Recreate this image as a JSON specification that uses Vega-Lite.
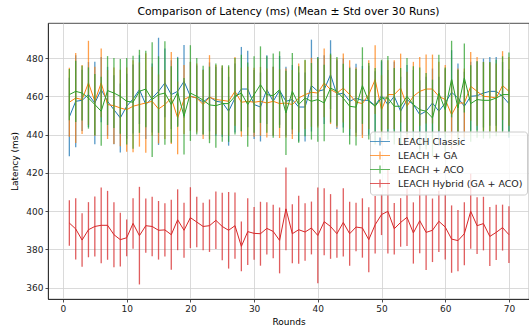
{
  "$schema": "https://vega.github.io/schema/vega-lite/v6.json",
  "autosize": {"type": "none"},
  "padding": {"left": 48, "top": 23, "right": 0, "bottom": 34},
  "width": 481,
  "height": 276,
  "title": {"text": "Comparison of Latency (ms) (Mean ± Std over 30 Runs)", "font": "DejaVu Sans", "fontSize": 10.8, "fontWeight": "normal", "color": "#000", "anchor": "middle", "offset": 6},
  "datasets": {
    "blue": [
      {"r":1,"m":449.2,"sd":20.5},{"r":2,"m":457.4,"sd":24},{"r":3,"m":457.9,"sd":16},{"r":4,"m":460.9,"sd":17},{"r":5,"m":456.5,"sd":21.5},{"r":6,"m":463.5,"sd":17},{"r":7,"m":457.4,"sd":18},{"r":8,"m":453.0,"sd":18},{"r":9,"m":448.7,"sd":18},{"r":10,"m":454.8,"sd":17},
      {"r":11,"m":458.6,"sd":18},{"r":12,"m":463.5,"sd":18},{"r":13,"m":455.7,"sd":18},{"r":14,"m":459.1,"sd":18},{"r":15,"m":462.6,"sd":28},{"r":16,"m":467.0,"sd":18},{"r":17,"m":460.9,"sd":18},{"r":18,"m":462.6,"sd":18},{"r":19,"m":467.8,"sd":19},{"r":20,"m":460.0,"sd":18},
      {"r":21,"m":459.1,"sd":17},{"r":22,"m":457.0,"sd":17},{"r":23,"m":459.7,"sd":18},{"r":24,"m":457.4,"sd":18},{"r":25,"m":456.9,"sd":18},{"r":26,"m":452.2,"sd":18},{"r":27,"m":459.1,"sd":18},{"r":28,"m":463.8,"sd":22},{"r":29,"m":463.8,"sd":20},{"r":30,"m":455.7,"sd":18},
      {"r":31,"m":454.4,"sd":18},{"r":32,"m":463.5,"sd":18},{"r":33,"m":457.4,"sd":18},{"r":34,"m":463.1,"sd":18},{"r":35,"m":457.4,"sd":18},{"r":36,"m":458.3,"sd":18},{"r":37,"m":454.4,"sd":18},{"r":38,"m":454.4,"sd":18},{"r":39,"m":465.6,"sd":24},{"r":40,"m":462.6,"sd":18},
      {"r":41,"m":463.5,"sd":18},{"r":42,"m":471.3,"sd":18},{"r":43,"m":460.9,"sd":18},{"r":44,"m":461.7,"sd":18},{"r":45,"m":457.4,"sd":18},{"r":46,"m":459.0,"sd":18},{"r":47,"m":457.9,"sd":18},{"r":48,"m":457.9,"sd":18},{"r":49,"m":455.1,"sd":18},{"r":50,"m":460.3,"sd":18},
      {"r":51,"m":455.7,"sd":18},{"r":52,"m":460.0,"sd":18},{"r":53,"m":452.2,"sd":18},{"r":54,"m":458.3,"sd":18},{"r":55,"m":455.7,"sd":18},{"r":56,"m":450.4,"sd":18},{"r":57,"m":452.2,"sd":18},{"r":58,"m":456.5,"sd":18},{"r":59,"m":452.2,"sd":18},{"r":60,"m":456.5,"sd":18},
      {"r":61,"m":462.1,"sd":22},{"r":62,"m":459.1,"sd":18},{"r":63,"m":454.8,"sd":18},{"r":64,"m":460.0,"sd":18},{"r":65,"m":460.3,"sd":18},{"r":66,"m":461.7,"sd":18},{"r":67,"m":462.6,"sd":18},{"r":68,"m":462.6,"sd":18},{"r":69,"m":460.0,"sd":18},{"r":70,"m":456.2,"sd":18}
    ],
    "orange": [
      {"r":1,"m":456.9,"sd":18},{"r":2,"m":459.1,"sd":23.5},{"r":3,"m":458.3,"sd":18},{"r":4,"m":467.0,"sd":22},{"r":5,"m":457.4,"sd":18},{"r":6,"m":467.0,"sd":18},{"r":7,"m":455.7,"sd":18},{"r":8,"m":455.1,"sd":20},{"r":9,"m":453.9,"sd":20},{"r":10,"m":453.0,"sd":22},
      {"r":11,"m":454.8,"sd":24},{"r":12,"m":455.7,"sd":22},{"r":13,"m":456.5,"sd":26},{"r":14,"m":457.4,"sd":18},{"r":15,"m":453.4,"sd":18},{"r":16,"m":455.7,"sd":18},{"r":17,"m":459.1,"sd":24},{"r":18,"m":448.7,"sd":19},{"r":19,"m":458.3,"sd":18},{"r":20,"m":460.0,"sd":18},
      {"r":21,"m":459.1,"sd":18},{"r":22,"m":455.7,"sd":18},{"r":23,"m":459.5,"sd":22},{"r":24,"m":458.3,"sd":18},{"r":25,"m":457.9,"sd":18},{"r":26,"m":457.4,"sd":18},{"r":27,"m":462.6,"sd":18},{"r":28,"m":456.9,"sd":18},{"r":29,"m":457.4,"sd":18},{"r":30,"m":456.9,"sd":18},
      {"r":31,"m":457.4,"sd":18},{"r":32,"m":456.5,"sd":18},{"r":33,"m":457.4,"sd":18},{"r":34,"m":456.2,"sd":18},{"r":35,"m":456.5,"sd":18},{"r":36,"m":455.7,"sd":18},{"r":37,"m":459.1,"sd":18},{"r":38,"m":460.9,"sd":18},{"r":39,"m":462.1,"sd":18},{"r":40,"m":461.7,"sd":18},
      {"r":41,"m":467.0,"sd":18},{"r":42,"m":463.5,"sd":18},{"r":43,"m":461.7,"sd":18},{"r":44,"m":464.3,"sd":18},{"r":45,"m":460.9,"sd":18},{"r":46,"m":457.0,"sd":18},{"r":47,"m":456.2,"sd":18},{"r":48,"m":460.9,"sd":18},{"r":49,"m":468.7,"sd":18},{"r":50,"m":453.0,"sd":18},
      {"r":51,"m":460.9,"sd":18},{"r":52,"m":460.9,"sd":18},{"r":53,"m":464.3,"sd":18},{"r":54,"m":454.8,"sd":18},{"r":55,"m":460.0,"sd":18},{"r":56,"m":462.6,"sd":18},{"r":57,"m":463.8,"sd":18},{"r":58,"m":463.8,"sd":18},{"r":59,"m":460.0,"sd":18},{"r":60,"m":458.3,"sd":18},
      {"r":61,"m":450.4,"sd":18},{"r":62,"m":456.5,"sd":18},{"r":63,"m":456.5,"sd":18},{"r":64,"m":465.2,"sd":18},{"r":65,"m":462.6,"sd":18},{"r":66,"m":460.0,"sd":18},{"r":67,"m":459.7,"sd":18},{"r":68,"m":459.1,"sd":18},{"r":69,"m":465.6,"sd":18},{"r":70,"m":462.6,"sd":18}
    ],
    "green": [
      {"r":1,"m":460.9,"sd":13.4},{"r":2,"m":462.6,"sd":16},{"r":3,"m":461.7,"sd":14.3},{"r":4,"m":459.1,"sd":16},{"r":5,"m":455.7,"sd":16},{"r":6,"m":452.2,"sd":18},{"r":7,"m":463.0,"sd":18},{"r":8,"m":461.7,"sd":18.3},{"r":9,"m":460.0,"sd":19.5},{"r":10,"m":457.4,"sd":22.6},
      {"r":11,"m":456.9,"sd":24.3},{"r":12,"m":462.6,"sd":21.7},{"r":13,"m":463.8,"sd":20},{"r":14,"m":458.3,"sd":30},{"r":15,"m":460.9,"sd":20},{"r":16,"m":461.7,"sd":27},{"r":17,"m":455.7,"sd":20},{"r":18,"m":462.0,"sd":18},{"r":19,"m":449.6,"sd":20},{"r":20,"m":461.7,"sd":25},
      {"r":21,"m":460.0,"sd":20},{"r":22,"m":458.0,"sd":18},{"r":23,"m":455.5,"sd":20},{"r":24,"m":455.1,"sd":22},{"r":25,"m":456.2,"sd":20},{"r":26,"m":456.2,"sd":20},{"r":27,"m":460.0,"sd":20},{"r":28,"m":461.7,"sd":20},{"r":29,"m":455.7,"sd":22},{"r":30,"m":460.9,"sd":20},
      {"r":31,"m":466.1,"sd":20},{"r":32,"m":460.9,"sd":20},{"r":33,"m":460.3,"sd":22},{"r":34,"m":463.5,"sd":20},{"r":35,"m":451.3,"sd":22},{"r":36,"m":462.6,"sd":20},{"r":37,"m":455.7,"sd":20},{"r":38,"m":459.1,"sd":20},{"r":39,"m":457.4,"sd":20},{"r":40,"m":458.3,"sd":22},
      {"r":41,"m":456.5,"sd":20},{"r":42,"m":464.3,"sd":18},{"r":43,"m":462.6,"sd":18},{"r":44,"m":459.0,"sd":18},{"r":45,"m":454.8,"sd":20},{"r":46,"m":454.3,"sd":20},{"r":47,"m":465.6,"sd":20},{"r":48,"m":457.4,"sd":20},{"r":49,"m":454.8,"sd":20},{"r":50,"m":459.1,"sd":20},
      {"r":51,"m":459.1,"sd":22},{"r":52,"m":454.8,"sd":20},{"r":53,"m":454.8,"sd":20},{"r":54,"m":460.0,"sd":20},{"r":55,"m":455.7,"sd":20},{"r":56,"m":453.0,"sd":22},{"r":57,"m":452.2,"sd":20},{"r":58,"m":448.7,"sd":20},{"r":59,"m":461.7,"sd":20},{"r":60,"m":453.0,"sd":22},
      {"r":61,"m":469.0,"sd":20},{"r":62,"m":453.9,"sd":20},{"r":63,"m":469.6,"sd":18},{"r":64,"m":456.2,"sd":20},{"r":65,"m":458.3,"sd":20},{"r":66,"m":457.9,"sd":20},{"r":67,"m":457.9,"sd":20},{"r":68,"m":459.1,"sd":20},{"r":69,"m":460.9,"sd":20},{"r":70,"m":460.9,"sd":22}
    ],
    "red": [
      {"r":1,"m":393.8,"sd":11.9},{"r":2,"m":390.7,"sd":16},{"r":3,"m":384.9,"sd":14},{"r":4,"m":390.3,"sd":14.4},{"r":5,"m":392.0,"sd":15.7},{"r":6,"m":392.6,"sd":19.8},{"r":7,"m":392.6,"sd":18},{"r":8,"m":387.7,"sd":17},{"r":9,"m":385.1,"sd":14},{"r":10,"m":386.1,"sd":9.6},
      {"r":11,"m":393.6,"sd":13.2},{"r":12,"m":387.2,"sd":25.5},{"r":13,"m":392.4,"sd":14.2},{"r":14,"m":392.0,"sd":15.5},{"r":15,"m":390.0,"sd":15.3},{"r":16,"m":390.2,"sd":13.9},{"r":17,"m":387.7,"sd":18.3},{"r":18,"m":395.5,"sd":15.9},{"r":19,"m":390.0,"sd":14.4},{"r":20,"m":396.6,"sd":15.9},
      {"r":21,"m":394.3,"sd":13.2},{"r":22,"m":392.0,"sd":12.4},{"r":23,"m":392.4,"sd":13.7},{"r":24,"m":395.2,"sd":15},{"r":25,"m":392.0,"sd":17.6},{"r":26,"m":390.0,"sd":20},{"r":27,"m":392.4,"sd":17.3},{"r":28,"m":381.6,"sd":13},{"r":29,"m":389.3,"sd":17.5},{"r":30,"m":388.4,"sd":13.8},
      {"r":31,"m":388.2,"sd":16.7},{"r":32,"m":391.0,"sd":13.7},{"r":33,"m":389.4,"sd":14},{"r":34,"m":384.7,"sd":17.2},{"r":35,"m":401.2,"sd":21.6},{"r":36,"m":388.2,"sd":15.4},{"r":37,"m":390.3,"sd":17.8},{"r":38,"m":389.1,"sd":15},{"r":39,"m":391.2,"sd":13.8},{"r":40,"m":387.3,"sd":25},
      {"r":41,"m":394.5,"sd":17.5},{"r":42,"m":392.0,"sd":16.9},{"r":43,"m":388.2,"sd":12.6},{"r":44,"m":394.1,"sd":17.8},{"r":45,"m":388.2,"sd":16.7},{"r":46,"m":391.7,"sd":12.7},{"r":47,"m":391.2,"sd":15.5},{"r":48,"m":385.1,"sd":17},{"r":49,"m":392.9,"sd":15},{"r":50,"m":398.2,"sd":10.7},
      {"r":51,"m":399.9,"sd":22},{"r":52,"m":390.8,"sd":13.4},{"r":53,"m":394.1,"sd":12.7},{"r":54,"m":396.8,"sd":15},{"r":55,"m":388.6,"sd":16},{"r":56,"m":395.0,"sd":17},{"r":57,"m":388.9,"sd":19.7},{"r":58,"m":390.0,"sd":16.6},{"r":59,"m":394.7,"sd":16},{"r":60,"m":391.7,"sd":17},
      {"r":61,"m":385.4,"sd":17.6},{"r":62,"m":384.6,"sd":16},{"r":63,"m":388.2,"sd":16.5},{"r":64,"m":399.9,"sd":19.6},{"r":65,"m":392.4,"sd":14.8},{"r":66,"m":393.5,"sd":14},{"r":67,"m":386.8,"sd":15.4},{"r":68,"m":388.9,"sd":14.4},{"r":69,"m":391.4,"sd":12},{"r":70,"m":387.7,"sd":14.8}
    ]
  },
  "encoding": {
    "x": {"field": "r", "type": "quantitative", "scale": {"domain": [-2.35, 73.15], "nice": false, "zero": false},
      "axis": {"values": [0,10,20,30,40,50,60,70], "title": "Rounds", "grid": true, "gridColor": "#d0d0d0", "gridWidth": 0.8, "domainColor": "#222", "domainWidth": 0.8, "tickColor": "#222", "tickSize": 3, "tickWidth": 0.8, "labelFont": "DejaVu Sans", "labelFontSize": 9, "labelColor": "#222", "labelPadding": 2, "titleFont": "DejaVu Sans", "titleFontSize": 9, "titleFontWeight": "normal", "titleColor": "#000", "titlePadding": 4}},
    "y": {"field": "m", "type": "quantitative", "scale": {"domain": [354.1, 498.3], "nice": false, "zero": false},
      "axis": {"values": [360,380,400,420,440,460,480], "title": "Latency (ms)", "grid": true, "gridColor": "#d0d0d0", "gridWidth": 0.8, "domainColor": "#222", "domainWidth": 0.8, "tickColor": "#222", "tickSize": 3, "tickWidth": 0.8, "labelFont": "DejaVu Sans", "labelFontSize": 9, "labelColor": "#222", "labelPadding": 2, "titleFont": "DejaVu Sans", "titleFontSize": 9, "titleFontWeight": "normal", "titleColor": "#000", "titlePadding": 6}}
  },
  "layer": [
    {"data": {"name": "blue"}, "mark": {"type": "line", "strokeWidth": 1, "clip": true}, "encoding": {"color": {"datum": "LEACH Classic", "type": "nominal", "scale": {"domain": ["LEACH Classic", "LEACH + GA", "LEACH + ACO", "LEACH Hybrid (GA + ACO)"], "range": ["#1f77b4", "#ff7f0e", "#2ca02c", "#d62728"]},
      "legend": {"title": null, "orient": "none", "legendX": 322, "legendY": 108.5, "symbolType": "M-2,0H2M0,-0.8V0.8", "symbolSize": 100, "symbolStrokeWidth": 1.2, "labelFont": "DejaVu Sans", "labelFontSize": 9.5, "labelColor": "#222", "labelOffset": 12, "rowPadding": 0, "padding": 4, "fillColor": "rgba(255,255,255,0.8)", "strokeColor": "#cccccc", "cornerRadius": 3}}}},
    {"data": {"name": "blue"}, "mark": {"type": "errorbar", "ticks": false, "thickness": 1.3, "opacity": 0.75}, "encoding": {"yError": {"field": "sd"}, "color": {"datum": "LEACH Classic", "type": "nominal"}}},
    {"data": {"name": "orange"}, "mark": {"type": "line", "strokeWidth": 1}, "encoding": {"color": {"datum": "LEACH + GA", "type": "nominal"}}},
    {"data": {"name": "orange"}, "mark": {"type": "errorbar", "ticks": false, "thickness": 1.3, "opacity": 0.75}, "encoding": {"yError": {"field": "sd"}, "color": {"datum": "LEACH + GA", "type": "nominal"}}},
    {"data": {"name": "green"}, "mark": {"type": "line", "strokeWidth": 1}, "encoding": {"color": {"datum": "LEACH + ACO", "type": "nominal"}}},
    {"data": {"name": "green"}, "mark": {"type": "errorbar", "ticks": false, "thickness": 1.3, "opacity": 0.75}, "encoding": {"yError": {"field": "sd"}, "color": {"datum": "LEACH + ACO", "type": "nominal"}}},
    {"data": {"name": "red"}, "mark": {"type": "line", "strokeWidth": 1}, "encoding": {"color": {"datum": "LEACH Hybrid (GA + ACO)", "type": "nominal"}}},
    {"data": {"name": "red"}, "mark": {"type": "errorbar", "ticks": false, "thickness": 1.3, "opacity": 0.75}, "encoding": {"yError": {"field": "sd"}, "color": {"datum": "LEACH Hybrid (GA + ACO)", "type": "nominal"}}}
  ],
  "config": {"view": {"stroke": "#222", "strokeWidth": 0.8}, "background": "white"}
}
